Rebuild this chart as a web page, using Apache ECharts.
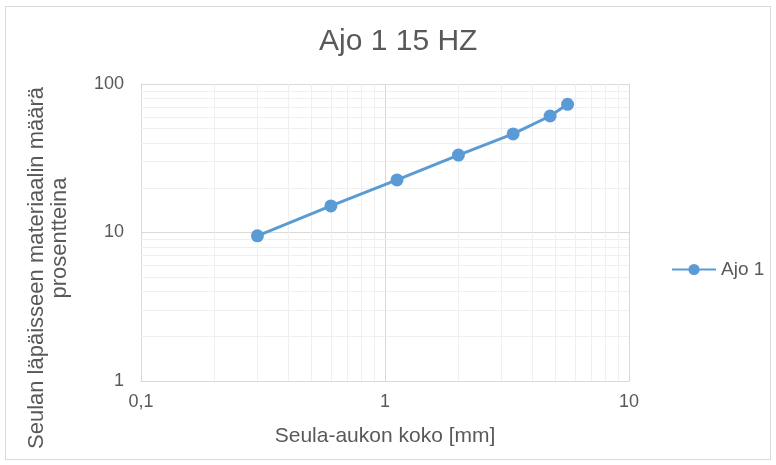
<!DOCTYPE html>
<html>
<head>
<meta charset="utf-8">
<script src="https://cdn.jsdelivr.net/npm/echarts@6/dist/echarts.min.js"></script>
<style>
  html, body { margin: 0; padding: 0; background: #fff; }
  #frame { position: absolute; left: 5px; top: 6px; width: 764px; height: 452px; border: 1px solid #d9d9d9; }
  #chart { position: absolute; left: 0; top: 0; width: 776px; height: 465px; }
</style>
</head>
<body>
<div id="frame"></div>
<div id="chart"></div>
<script>
// seulakoko (mm) ja läpäisy (%)
const sieveSizes = [0.3, 0.6, 1.12, 2, 3.35, 4.75, 5.6];
const passing = [9.5, 15.1, 22.6, 33.2, 46.1, 60.9, 73.0];
const seriesName = 'Ajo 1';

// log-asteikon apuviivat
const xMinorTicks = [0.2, 0.3, 0.4, 0.5, 0.6, 0.7, 0.8, 0.9, 2, 3, 4, 5, 6, 7, 8, 9];
const yMinorTicks = [2, 3, 4, 5, 6, 7, 8, 9, 20, 30, 40, 50, 60, 70, 80, 90];

const font = 'Liberation Sans, Arial, sans-serif';
const textColor = '#595959';

function fmt(v) {
  return String(+Number(v).toPrecision(6)).replace('.', ',');
}

const minorLines = [];
xMinorTicks.forEach(function (v) { minorLines.push({ xAxis: v }); });
yMinorTicks.forEach(function (v) { minorLines.push({ yAxis: v }); });

const myChart = echarts.init(document.getElementById('chart'));
const option = {
  animation: false,
  textStyle: { fontFamily: font, color: textColor },
  title: {
    text: 'Ajo 1 15 HZ',
    left: 314,
    top: 22,
    textStyle: { fontSize: 30, fontWeight: 'normal', color: textColor, fontFamily: font }
  },
  legend: {
    data: [seriesName],
    left: 666,
    top: 255,
    itemWidth: 44,
    itemHeight: 14,
    textStyle: { fontSize: 19, color: textColor, fontFamily: font }
  },
  // pystyakselin otsikko kahdella rivillä
  graphic: [
    {
      type: 'text',
      x: 37,
      y: 268,
      rotation: Math.PI / 2,
      style: {
        text: 'Seulan läpäisseen materiaalin määrä',
        font: '22px ' + font,
        fill: textColor,
        align: 'center',
        verticalAlign: 'middle'
      }
    },
    {
      type: 'text',
      x: 60,
      y: 238,
      rotation: Math.PI / 2,
      style: {
        text: 'prosentteina',
        font: '22px ' + font,
        fill: textColor,
        align: 'center',
        verticalAlign: 'middle'
      }
    }
  ],
  grid: { left: 141, right: 147, top: 84, bottom: 84, containLabel: false },
  xAxis: {
    type: 'log',
    logBase: 10,
    min: 0.1,
    max: 10,
    name: 'Seula-aukon koko [mm]',
    nameLocation: 'middle',
    nameGap: 45,
    nameTextStyle: { fontSize: 21, color: textColor, fontFamily: font },
    axisLine: { show: true, lineStyle: { color: '#d9d9d9' } },
    axisTick: { show: false },
    axisLabel: { fontSize: 18, color: textColor, margin: 12, formatter: fmt },
    splitLine: { show: true, lineStyle: { color: '#d9d9d9' } }
  },
  yAxis: {
    type: 'log',
    logBase: 10,
    min: 1,
    max: 100,
    axisLine: { show: true, lineStyle: { color: '#d9d9d9' } },
    axisTick: { show: false },
    axisLabel: { fontSize: 18, color: textColor, margin: 17, formatter: fmt },
    splitLine: { show: true, lineStyle: { color: '#d9d9d9' } }
  },
  series: [
    {
      name: 'minor',
      type: 'line',
      data: [],
      z: 1,
      silent: true,
      markLine: {
        z: 1,
        silent: true,
        symbol: ['none', 'none'],
        label: { show: false },
        lineStyle: { color: '#efefef', width: 1, type: 'solid' },
        emphasis: { disabled: true },
        data: minorLines
      }
    },
    {
      name: seriesName,
      type: 'line',
      z: 3,
      data: sieveSizes.map(function (x, i) { return [x, passing[i]]; }),
      symbol: 'circle',
      symbolSize: 13,
      lineStyle: { color: '#5b9bd5', width: 3 },
      itemStyle: { color: '#5b9bd5' }
    }
  ]
};
myChart.setOption(option);
</script>
</body>
</html>
